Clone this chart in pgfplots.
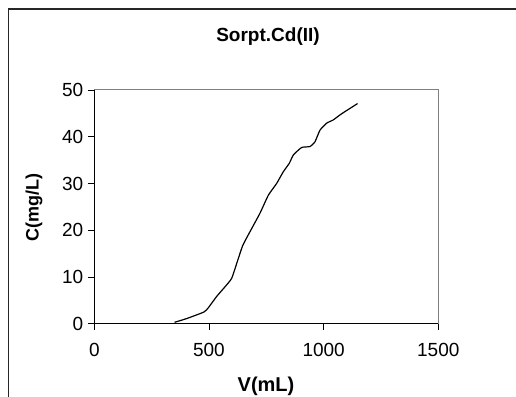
\documentclass[border=0pt]{standalone}
\usepackage{fontspec}
\setmainfont{Liberation Sans}
\usepackage{pgfplots}
\pgfplotsset{compat=1.18}
\begin{document}
\begin{tikzpicture}[x=1pt,y=1pt]
\path[use as bounding box] (0,0) rectangle (516,396);
\draw[line width=1.6pt, black!85] (8.5,-10) -- (8.5,387) -- (530,387);
\begin{axis}[
  at={(94.3pt,72.3pt)}, anchor=south west,
  scale only axis, width=344pt, height=233.7pt,
  xmin=0, xmax=1500, ymin=0, ymax=50,
  xtick={0,500,1000,1500}, ytick={0,10,20,30,40,50},
  tick align=outside, xtick pos=bottom, ytick pos=left,
  major tick length=6pt,
  tick style={black, line width=0.8pt},
  axis line style={draw=gray, line width=1pt},
  /pgf/number format/assume math mode=true,
  /pgf/number format/set thousands separator={},
  tick label style={font=\fontsize{19}{22}\selectfont},
  xticklabel style={yshift=-10pt},
  yticklabel style={xshift=-1.5pt},
  clip=false,
]
\draw[black, line width=1pt] (rel axis cs:0,0) -- (rel axis cs:0,1);
\draw[black, line width=1pt] (rel axis cs:0,0) -- (rel axis cs:1,0);
\addplot[black, line width=1.2pt, smooth, tension=0.3] coordinates {
(350,0.3) (403,1.1) (478,2.5) (497,3.4) (533,5.8) (570,7.9) (599,9.7)
(621,12.9) (647,16.7) (679,19.7) (722,23.6) (759,27.5) (795,30.0)
(824,32.5) (850,34.3) (868,36.1) (904,37.7) (940,37.9) (962,38.9)
(984,41.4) (1013,42.9) (1042,43.6) (1078,44.9) (1148,47.1)
};
\end{axis}
\node[font=\fontsize{19}{22}\selectfont\bfseries] at (268,359) {Sorpt.Cd(II)};
\node[font=\fontsize{20}{23}\selectfont\bfseries] at (266,10) {V(mL)};
\node[font=\fontsize{18}{21}\selectfont\bfseries, rotate=90] at (34,188) {C(mg/L)};
\end{tikzpicture}
\end{document}
